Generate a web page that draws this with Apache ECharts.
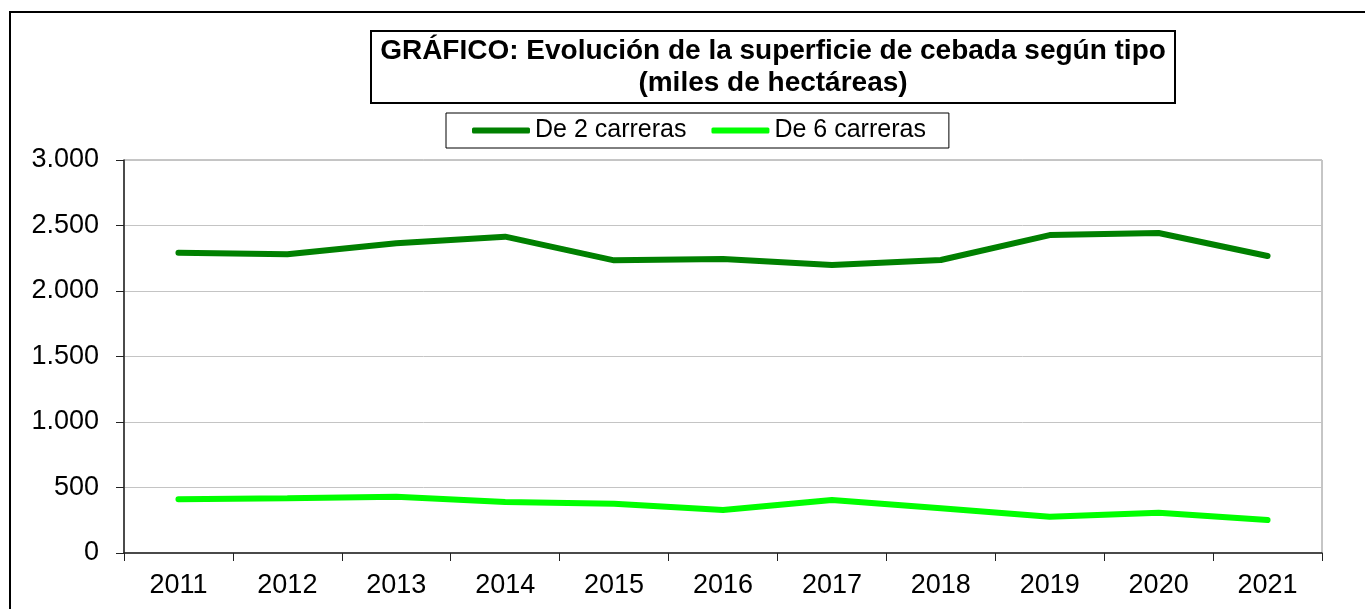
<!DOCTYPE html>
<html>
<head>
<meta charset="utf-8">
<script src="https://cdn.jsdelivr.net/npm/echarts@6/dist/echarts.min.js"></script>
<style>
  html, body { margin: 0; padding: 0; background: #fff; }
  #main { width: 1365px; height: 609px; }
</style>
</head>
<body>
<div id="main"></div>
<script>
// datos (miles de hectáreas)
var years = ['2011', '2012', '2013', '2014', '2015', '2016', '2017', '2018', '2019', '2020', '2021'];
var dosCarreras = [2292, 2280, 2364, 2415, 2234, 2244, 2198, 2237, 2427, 2443, 2267];
var seisCarreras = [410, 417, 430, 389, 376, 328, 405, 341, 277, 308, 252];
var seriesNames = ['De 2 carreras', 'De 6 carreras'];

var FONT = 'Liberation Sans, Arial, sans-serif';

var myChart = echarts.init(document.getElementById('main'));

var option = {
    backgroundColor: '#fff',
    animation: false,
    title: {
        text: 'GRÁFICO: Evolución de la superficie de cebada según tipo\n(miles de hectáreas)',
        left: 764,
        top: 31,
        textAlign: 'center',
        textVerticalAlign: 'top',
        padding: [4, 9, 4, 9],
        borderColor: '#000',
        borderWidth: 2,
        backgroundColor: '#fff',
        textStyle: {
            fontFamily: FONT,
            fontSize: 28,
            fontWeight: 'bold',
            lineHeight: 32,
            color: '#000'
        }
    },
    legend: {
        data: seriesNames,
        left: 446,
        top: 113,
        padding: [3, 23, 3, 26],
        itemGap: 25,
        itemWidth: 58,
        itemHeight: 6,
        icon: 'roundRect',
        borderColor: '#000',
        borderWidth: 1,
        backgroundColor: '#fff',
        textStyle: {
            fontFamily: FONT,
            fontSize: 25,
            lineHeight: 29,
            color: '#000'
        }
    },
    graphic: [{
        // marco exterior
        type: 'rect',
        z: -10,
        silent: true,
        shape: {x: 10, y: 12, width: 1400, height: 700},
        style: {fill: 'none', stroke: '#000', lineWidth: 2}
    }],
    grid: {
        left: 124,
        top: 160,
        right: 43,
        bottom: 56,
        show: true,
        borderColor: '#8c8c8c',
        borderWidth: 1
    },
    xAxis: {
        type: 'category',
        data: years,
        boundaryGap: true,
        axisLine: {lineStyle: {color: '#222', width: 1.5}},
        axisTick: {show: true, length: 8, lineStyle: {color: '#222'}},
        axisLabel: {
            margin: 19,
            fontFamily: FONT,
            fontSize: 27,
            color: '#000'
        },
        splitLine: {show: false}
    },
    yAxis: {
        type: 'value',
        min: 0,
        max: 3000,
        interval: 500,
        axisLine: {show: true, lineStyle: {color: '#222', width: 1.5}},
        axisTick: {show: true, length: 8, lineStyle: {color: '#222'}},
        axisLabel: {
            margin: 25,
            fontFamily: FONT,
            fontSize: 27,
            color: '#000',
            formatter: function (v) {
                return String(v).replace(/\B(?=(\d{3})+(?!\d))/g, '.');
            }
        },
        splitLine: {show: true, lineStyle: {color: '#c4c4c4', width: 1}}
    },
    series: [
        {
            name: seriesNames[0],
            type: 'line',
            data: dosCarreras,
            color: '#008000',
            showSymbol: false,
            symbol: 'none',
            lineStyle: {color: '#008000', width: 6, cap: 'round'}
        },
        {
            name: seriesNames[1],
            type: 'line',
            data: seisCarreras,
            color: '#00ff00',
            showSymbol: false,
            symbol: 'none',
            lineStyle: {color: '#00ff00', width: 6, cap: 'round'}
        }
    ]
};

myChart.setOption(option);
</script>
</body>
</html>
